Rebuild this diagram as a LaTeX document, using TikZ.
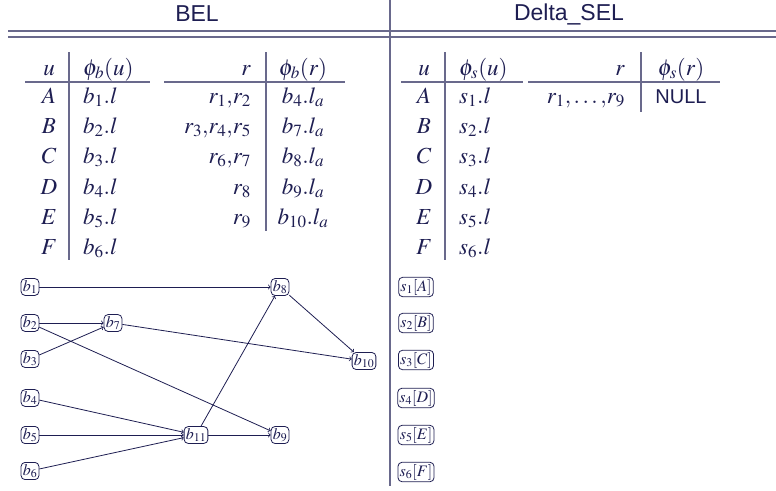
\documentclass[tikz,border=0pt]{standalone}
\usepackage{mathptmx}
\usepackage[no-math]{fontspec}
\newfontfamily\helv{Liberation Sans}
\definecolor{navy}{RGB}{30,30,82}
\definecolor{rulegray}{RGB}{105,105,140}
\tikzstyle{block}=[draw,rounded corners=4pt,inner sep=1.7pt,line width=0.8pt,font=\fontsize{16}{18}\selectfont]
\tikzstyle{cell}=[inner sep=0pt,font=\fontsize{23}{26}\selectfont]
\tikzstyle{head}=[font=\helv\fontsize{23}{26}\selectfont]
\tikzstyle{hline}=[rulegray,line width=1.2pt]

\begin{document}
\begin{tikzpicture}[x=1pt,y=-1pt,navy]
\useasboundingbox (0,0) rectangle (776,490);

\node[head] (bel)  at (197,14) {BEL};
\node[head] (dsel) at (569,14) {Delta\_SEL};
\draw[hline] (8,31) -- (776,31);
\draw[hline] (8,37) -- (776,37);
\draw[hline] (390,0) -- (390,486);

% BEL: u / phi_b(u)
\node[cell,anchor=base]      (uh)   at (49,75)  {$u$};
\node[cell,anchor=base west] (pbuh) at (83,75)  {$\phi_b(u)$};
\node[cell,anchor=base]      (uA)   at (49,103) {$A$};
\node[cell,anchor=base west] (pbA)  at (83,103) {$b_1.l$};
\node[cell,anchor=base]      (uB)   at (49,133) {$B$};
\node[cell,anchor=base west] (pbB)  at (83,133) {$b_2.l$};
\node[cell,anchor=base]      (uC)   at (49,163) {$C$};
\node[cell,anchor=base west] (pbC)  at (83,163) {$b_3.l$};
\node[cell,anchor=base]      (uD)   at (49,194) {$D$};
\node[cell,anchor=base west] (pbD)  at (83,194) {$b_4.l$};
\node[cell,anchor=base]      (uE)   at (49,224) {$E$};
\node[cell,anchor=base west] (pbE)  at (83,224) {$b_5.l$};
\node[cell,anchor=base]      (uF)   at (49,254) {$F$};
\node[cell,anchor=base west] (pbF)  at (83,254) {$b_6.l$};
\draw[hline] (25,82) -- (150,82);
\draw[hline] (69,52) -- (69,260);

% BEL: r / phi_b(r)
\node[cell,anchor=base east] (rh)   at (251,75)  {$r$};
\node[cell,anchor=base]      (pbrh) at (303,75)  {$\phi_b(r)$};
\node[cell,anchor=base east] (r12)  at (251,103) {$r_1{,}r_2$};
\node[cell,anchor=base]      (pb4)  at (303,103) {$b_4.l_a$};
\node[cell,anchor=base east] (r345) at (251,133) {$r_3{,}r_4{,}r_5$};
\node[cell,anchor=base]      (pb7)  at (303,133) {$b_7.l_a$};
\node[cell,anchor=base east] (r67)  at (251,163) {$r_6{,}r_7$};
\node[cell,anchor=base]      (pb8)  at (303,163) {$b_8.l_a$};
\node[cell,anchor=base east] (r8)   at (251,194) {$r_8$};
\node[cell,anchor=base]      (pb9)  at (303,194) {$b_9.l_a$};
\node[cell,anchor=base east] (r9)   at (251,224) {$r_9$};
\node[cell,anchor=base]      (pb10) at (303,224) {$b_{10}.l_a$};
\draw[hline] (164,82) -- (345,82);
\draw[hline] (266,52) -- (266,231);

% Delta_SEL: u / phi_s(u)
\node[cell,anchor=base]      (suh)  at (424,75)  {$u$};
\node[cell,anchor=base west] (psuh) at (459,75)  {$\phi_s(u)$};
\node[cell,anchor=base]      (suA)  at (424,103) {$A$};
\node[cell,anchor=base west] (psA)  at (459,103) {$s_1.l$};
\node[cell,anchor=base]      (suB)  at (424,133) {$B$};
\node[cell,anchor=base west] (psB)  at (459,133) {$s_2.l$};
\node[cell,anchor=base]      (suC)  at (424,163) {$C$};
\node[cell,anchor=base west] (psC)  at (459,163) {$s_3.l$};
\node[cell,anchor=base]      (suD)  at (424,194) {$D$};
\node[cell,anchor=base west] (psD)  at (459,194) {$s_4.l$};
\node[cell,anchor=base]      (suE)  at (424,224) {$E$};
\node[cell,anchor=base west] (psE)  at (459,224) {$s_5.l$};
\node[cell,anchor=base]      (suF)  at (424,254) {$F$};
\node[cell,anchor=base west] (psF)  at (459,254) {$s_6.l$};
\draw[hline] (401,82) -- (523,82);
\draw[hline] (445,52) -- (445,260);

% Delta_SEL: r / phi_s(r)
\node[cell,anchor=base east] (srh)  at (625,75)  {$r$};
\node[cell,anchor=base]      (psrh) at (681,75)  {$\phi_s(r)$};
\node[cell,anchor=base east] (sr19) at (625,103) {$r_1{,}\ldots{,}r_9$};
\node[cell,anchor=base,font=\helv\fontsize{20}{24}\selectfont] (null) at (681,103) {NULL};
\draw[hline] (528,82) -- (720,82);
\draw[hline] (641,52) -- (641,112);

% graph of b nodes
\node[block] (b1)  at (30,287)  {$b_1$};
\node[block] (b2)  at (30,323)  {$b_2$};
\node[block] (b3)  at (30,359)  {$b_3$};
\node[block] (b4)  at (30,398)  {$b_4$};
\node[block] (b5)  at (30,435)  {$b_5$};
\node[block] (b6)  at (30,471)  {$b_6$};
\node[block] (b7)  at (113,323) {$b_7$};
\node[block] (b8)  at (280,287) {$b_8$};
\node[block] (b9)  at (280,435) {$b_9$};
\node[block] (b10) at (364,361) {$b_{10}$};
\node[block] (b11) at (196,435) {$b_{11}$};

\draw[->, line width=0.8pt] (b1) -- (b8);
\draw[->, line width=0.8pt] (b2) -- (b7);
\draw[->, line width=0.8pt] (b3) -- (b7);
\draw[->, line width=0.8pt] (b2) -- (b9);
\draw[->, line width=0.8pt] (b7) -- (b10);
\draw[->, line width=0.8pt] (b8) -- (b10);
\draw[->, line width=0.8pt] (b4) -- (b11);
\draw[->, line width=0.8pt] (b5) -- (b11);
\draw[->, line width=0.8pt] (b6) -- (b11);
\draw[->, line width=0.8pt] (b11) -- (b8);
\draw[->, line width=0.8pt] (b11) -- (b9);

% s nodes
\node[block] (s1) at (416,287) {$s_1[A]$};
\node[block] (s2) at (416,323) {$s_2[B]$};
\node[block] (s3) at (416,360) {$s_3[C]$};
\node[block] (s4) at (416,398) {$s_4[D]$};
\node[block] (s5) at (416,435) {$s_5[E]$};
\node[block] (s6) at (416,472) {$s_6[F]$};

\end{tikzpicture}
\end{document}
